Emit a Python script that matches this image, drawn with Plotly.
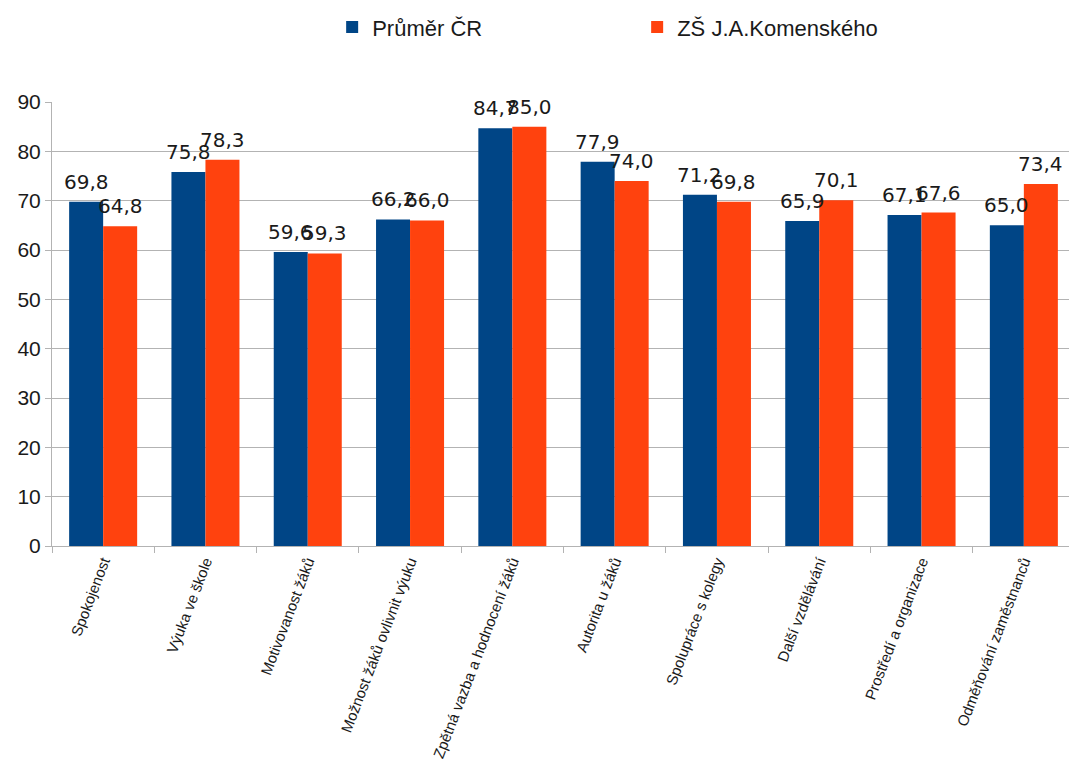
import plotly.graph_objects as go

categories = ["Spokojenost", "Výuka ve škole", "Motivovanost žáků", "Možnost žáků ovlivnit výuku",
              "Zpětná vazba a hodnocení žáků", "Autorita u žáků", "Spolupráce s kolegy",
              "Další vzdělávání", "Prostředí a organizace", "Odměňování zaměstnanců"]
prumer_cr = [69.8, 75.8, 59.6, 66.2, 84.7, 77.9, 71.2, 65.9, 67.1, 65.0]
zs_komenskeho = [64.8, 78.3, 59.3, 66.0, 85.0, 74.0, 69.8, 70.1, 67.6, 73.4]
y_ticks = [0, 10, 20, 30, 40, 50, 60, 70, 80, 90]

label_font = dict(size=20, color="#1a1a1a", family="DejaVu Sans")

fig = go.Figure()
fig.add_trace(go.Bar(name="Průměr ČR", x=categories, y=prumer_cr, marker_color="#004586",
                     marker_line_width=0))
fig.add_trace(go.Bar(name="ZŠ J.A.Komenského", x=categories, y=zs_komenskeho, marker_color="#ff420e",
                     marker_line_width=0))

# value labels above each bar (decimal comma)
for series, shift in ((prumer_cr, -17), (zs_komenskeho, 17)):
    for cat, val in zip(categories, series):
        fig.add_annotation(x=cat, y=val, xref="x", yref="y", text=f"{val:.1f}".replace(".", ","),
                           showarrow=False, xshift=shift, yshift=6, yanchor="bottom",
                           xanchor="center", font=label_font)

fig.update_layout(
    width=1077, height=772,
    separators=", ",
    barmode="group", bargap=0.335, bargroupgap=0,
    paper_bgcolor="white", plot_bgcolor="white",
    margin=dict(l=44, r=10, t=94, b=234, autoexpand=False),
    font=dict(family="Liberation Sans", color="#1a1a1a"),
    legend=dict(orientation="h", x=0.572, xanchor="center", y=0.975, yanchor="middle",
                yref="container", font=dict(size=22), entrywidth=260, entrywidthmode="pixels",
                traceorder="normal"),
    showlegend=True,
)
fig.update_xaxes(tickangle=-69, tickson="boundaries", ticks="outside", ticklen=6, tickcolor="#b3b3b3",
                 showline=True, linecolor="#b3b3b3", linewidth=1, automargin=False,
                 tickfont=dict(size=15, family="Liberation Sans", color="#1a1a1a"))
fig.update_yaxes(range=[0, 90], tickvals=y_ticks, showgrid=True, gridcolor="#b3b3b3", gridwidth=1,
                 showline=True, linecolor="#b3b3b3", ticks="outside", ticklen=6, tickcolor="#b3b3b3",
                 automargin=False, zeroline=False, tickfont=dict(size=21, color="#1a1a1a"))

fig.write_html("out.html")
